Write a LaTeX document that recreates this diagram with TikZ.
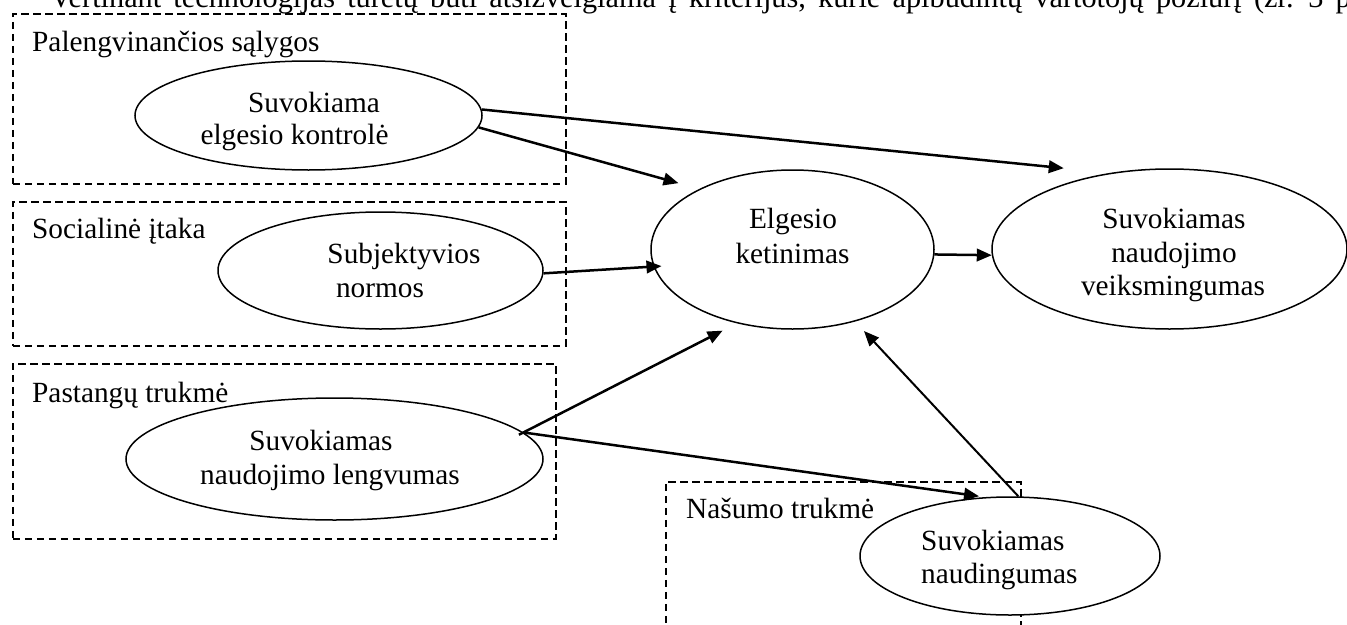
\documentclass[tikz,border=0pt]{standalone}
\usepackage{fontspec}
\setmainfont{Liberation Serif}
\usetikzlibrary{shapes.geometric,arrows.meta}
\begin{document}
\begin{tikzpicture}[x=1pt,y=-1pt,
  font=\fontsize{29.3}{34}\selectfont,
  grp/.style={draw, line width=1.5pt, dash pattern=on 7.5pt off 4.5pt, inner sep=0pt, anchor=north west},
  ell/.style={ellipse, draw, line width=1.5pt, fill=white, inner sep=0pt},
  lbl/.style={anchor=base west, inner sep=0pt},
  txt/.style={anchor=base, inner sep=0pt},
  arr/.style={-{Triangle[length=15pt,width=12.5pt]}, line width=2.5pt}]
\useasboundingbox (0,0) rectangle (1347,624);
% top running text (cut off by the page edges)
\node[lbl] (top) at (50,7) {\fontsize{30.3}{34}\selectfont\spaceskip=12.2pt Vertinant technologijas turėtų būti atsižvelgiama į kriterijus, kurie apibūdintų vartotojų požiūrį (žr. 3 pav.)};
% dashed groups
\node[grp, minimum width=553pt, minimum height=170pt] (g1) at (12,13) {};
\node[grp, minimum width=553pt, minimum height=144pt] (g2) at (12,201) {};
\node[grp, minimum width=543pt, minimum height=175pt] (g3) at (12,363) {};
\node[grp, minimum width=355pt, minimum height=200pt] (g4) at (665,481) {};
% ellipses
\node[ell, minimum width=347pt, minimum height=109pt] (pbc) at (308.5,115.5) {};
\node[ell, minimum width=325pt, minimum height=117pt] (sn) at (380.5,270.5) {};
\node[ell, minimum width=417pt, minimum height=122pt] (ep) at (334.5,459) {};
\node[ell, minimum width=283pt, minimum height=159pt] (ei) at (792.5,249.5) {};
\node[ell, minimum width=355pt, minimum height=160pt] (pu) at (1169.5,249) {};
\node[ell, minimum width=300pt, minimum height=118pt] (pn) at (1010,556) {};
% group labels
\node[lbl] (t1) at (32,51) {Palengvinančios sąlygos};
\node[lbl] (t2) at (32,238) {Socialinė įtaka};
\node[lbl] (t3) at (32,402) {Pastangų trukmė};
\node[lbl] (t4) at (686,518) {Našumo trukmė};
% ellipse texts
\node[txt] (pbc1) at (314,112) {Suvokiama};
\node[txt] (pbc2) at (294.5,144) {elgesio kontrolė};
\node[txt] (sn1) at (404,263) {Subjektyvios};
\node[txt] (sn2) at (380,297) {normos};
\node[txt] (ep1) at (321,450) {Suvokiamas};
\node[txt] (ep2) at (330,484) {naudojimo lengvumas};
\node[txt] (ei1) at (793,228) {Elgesio};
\node[txt] (ei2) at (792.5,263) {ketinimas};
\node[txt] (pu1) at (1174,228) {Suvokiamas};
\node[txt] (pu2) at (1174,262) {naudojimo};
\node[txt] (pu3) at (1173,295) {veiksmingumas};
\node[lbl] (pn1) at (921,550) {Suvokiamas};
\node[lbl] (pn2) at (921,583) {naudingumas};
% connectors
\draw[arr, shorten >=46.5pt] (pbc.2) -- (pu.128.7);
\draw[arr, shorten >=21.5pt] (pbc.-4) -- (ei.147.6);
\draw[arr, shorten >=-8pt] (sn.-1.6) -- (ei.187.2);
\draw[arr, shorten <=-5pt, shorten >=16pt] (ep.8) -- (ei.-127);
\draw[arr, shorten >=6pt] (ep.8) -- (pn.113.8);
\draw[arr, line width=2pt, shorten >=13pt] (pn.82) -- (ei.-49.9);
\draw[arr] (ei.-2) -- (pu.182);
\end{tikzpicture}
\end{document}
